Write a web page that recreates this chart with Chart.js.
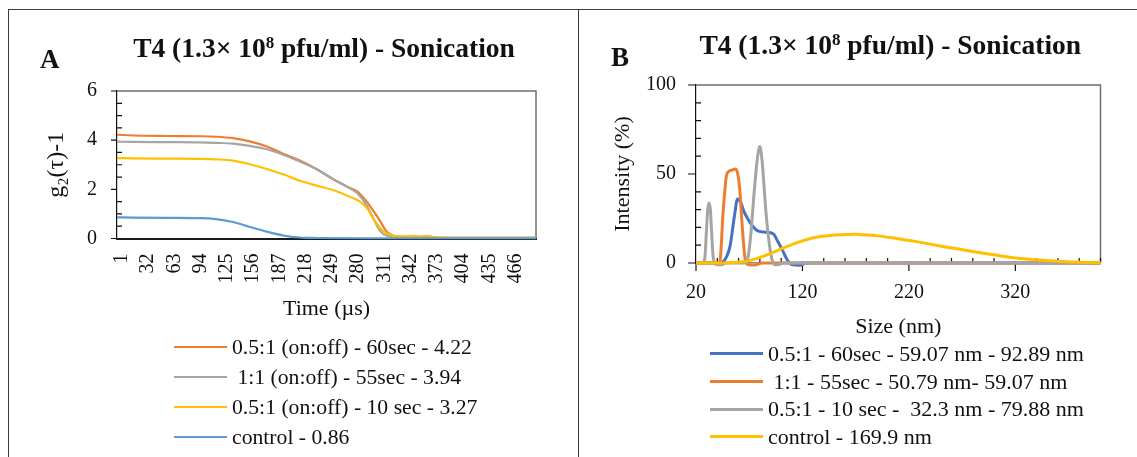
<!DOCTYPE html>
<html>
<head>
<meta charset="utf-8">
<script src="https://cdn.jsdelivr.net/npm/chart.js@4.4.1/dist/chart.umd.min.js"></script>
<style>
  html, body { margin: 0; padding: 0; background: #fff; }
  body { width: 1137px; height: 457px; position: relative; overflow: hidden; font-family: 'Liberation Serif', serif; }
  .frame { position: absolute; left: 8px; top: 9px; right: -4px; bottom: -4px; border-top: 1.5px solid #3a3a3a; border-left: 1.5px solid #3a3a3a; }
  .divider { position: absolute; left: 577.5px; top: 9px; bottom: 0; width: 0; border-left: 1.5px solid #3a3a3a; }
  .panel { position: absolute; top: 10px; height: 447px; }
  #panelA { left: 9px; width: 568px; }
  #panelB { left: 579px; width: 558px; }
  .legend { position: absolute; margin: 0; padding: 0; list-style: none; color: #111; }
  .legend li { display: flex; align-items: center; white-space: pre; }
  .legend .swatch { display: inline-block; width: 53px; height: 0; border-top-style: solid; margin-right: 5px; }
  #legendA { left: 165px; top: 322px; font-size: 21.7px; }
  #legendA li { height: 30px; }
  #legendB { left: 131px; top: 330px; font-size: 22px; }
  #legendB li { height: 27.7px; }
</style>
</head>
<body>
<div class="frame"></div>
<div class="divider"></div>
<div class="panel" id="panelA">
  <canvas id="chartA" width="568" height="447"></canvas>
  <ul class="legend" id="legendA"></ul>
</div>
<div class="panel" id="panelB">
  <canvas id="chartB" width="558" height="447"></canvas>
  <ul class="legend" id="legendB"></ul>
</div>
<script>
// ---- title text ----
const titleHead = 'T4 (1.3\u00d7 10';
const titleExp = '8';
const titleTail = ' pfu/ml) - Sonication';

// ---- A: correlation curves, g2(tau)-1 vs time ----
const timeTicks = [1, 32, 63, 94, 125, 156, 187, 218, 249, 280, 311, 342, 373, 404, 435, 466];
const timeOrange = [1, 20, 59, 99, 118, 138, 158, 178, 198, 217, 237, 257, 273, 285, 296, 304, 312, 320, 328, 344, 352, 360, 368, 376, 400, 450, 496];
const g2Orange = [4.22, 4.19, 4.17, 4.16, 4.14, 4.08, 3.95, 3.74, 3.44, 3.17, 2.82, 2.40, 2.11, 1.91, 1.50, 1.12, 0.70, 0.26, 0.11, 0.08, 0.10, 0.07, 0.10, 0.04, 0.03, 0.03, 0.03];
const timeGray = [1, 20, 59, 99, 118, 138, 158, 178, 198, 217, 237, 257, 273, 285, 296, 304, 312, 320, 336, 400, 496];
const g2Gray = [3.94, 3.93, 3.92, 3.91, 3.89, 3.86, 3.77, 3.63, 3.40, 3.13, 2.82, 2.40, 2.10, 1.84, 1.35, 0.80, 0.30, 0.11, 0.05, 0.03, 0.03];
const timeYellow = [1, 20, 59, 99, 118, 138, 158, 178, 198, 217, 237, 257, 276, 288, 296, 304, 312, 320, 328, 344, 352, 360, 368, 376, 400, 496];
const g2Yellow = [3.27, 3.26, 3.25, 3.24, 3.22, 3.17, 3.02, 2.83, 2.60, 2.35, 2.15, 1.96, 1.70, 1.50, 1.25, 0.80, 0.42, 0.20, 0.10, 0.08, 0.11, 0.08, 0.10, 0.05, 0.03, 0.03];
const timeBlue = [1, 20, 59, 99, 118, 138, 158, 178, 198, 217, 237, 300, 496];
const g2Blue = [0.86, 0.85, 0.84, 0.83, 0.79, 0.67, 0.47, 0.28, 0.12, 0.04, 0.02, 0.01, 0.01];

// ---- B: size distributions, intensity (%) vs size (nm) ----
const sizeTicks = [20, 120, 220, 320];
const size60 = [20, 42, 45, 49, 52, 56, 59.07, 62, 65, 71, 78, 85, 92.89, 96, 101, 105.5, 110, 118, 123, 400];
const int60 = [0, 0, 0.5, 3.9, 9.5, 26, 36, 34, 29, 22.5, 18, 17.3, 16.3, 13, 7.5, 2, -0.9, -1.3, 0, 0];
const size55 = [20, 40, 42.5, 45.4, 48.5, 50.79, 54, 57, 59.07, 61, 62.6, 64.5, 66, 68, 72, 76, 82, 400];
const int55 = [0, 0, 1, 28, 48.6, 51.4, 52.2, 52.8, 50.5, 42, 28, 12, 3, -0.7, -1.1, -1.1, 0, 0];
const size10 = [20, 26.5, 28.5, 29.8, 31, 32.3, 33.5, 34.6, 36, 37.5, 40, 44, 48, 66, 68, 71, 74.8, 77.5, 79.88, 82, 83.5, 85.5, 87.3, 89.5, 91.4, 94, 97, 102, 400];
const int10 = [0, 0, 4, 18, 30, 33.7, 30, 18, 4, 0, -1, -1, 0, 0, 1, 13, 41, 58, 65.4, 58, 46.7, 30, 18.8, 8, 2, -1, -1, 0, 0];
const sizeControl = [20, 40, 52, 68, 83.5, 99, 115, 130.5, 146, 158, 169.9, 182, 193, 208, 224, 240, 256, 272, 287, 303, 318, 334, 350, 365, 381, 400];
const intControl = [0, 0.05, 0.2, 1.1, 3.9, 7.6, 11.4, 14.2, 15.5, 15.9, 16.1, 15.7, 15.1, 13.8, 12.3, 10.6, 8.9, 7.3, 5.8, 4.3, 3.0, 2.1, 1.4, 0.8, 0.4, 0.2];

const zip = (xs, ys) => xs.map((x, i) => ({ x: x, y: ys[i] }));

Chart.defaults.font.family = "'Liberation Serif', serif";
Chart.defaults.color = '#111';

// draws "T4 (1.3x 10^8 pfu/ml) - Sonication" and the panel letter
const panelText = {
    id: 'panelText',
    afterDraw(chart, args, opts) {
        const ctx = chart.ctx;
        const area = chart.chartArea;
        ctx.save();
        ctx.fillStyle = '#111';
        ctx.textBaseline = 'alphabetic';
        ctx.textAlign = 'left';

        ctx.font = 'bold 27px "Liberation Serif"';
        ctx.fillText(opts.letter, opts.letterX, opts.letterY);

        const big = 'bold 27.5px "Liberation Serif"';
        const small = 'bold 17px "Liberation Serif"';
        ctx.font = big;
        const w1 = ctx.measureText(titleHead).width;
        const w3 = ctx.measureText(titleTail).width;
        ctx.font = small;
        const w2 = ctx.measureText(titleExp).width;
        let x = (area.left + area.right) / 2 + opts.titleShift - (w1 + w2 + w3) / 2;
        const y = area.top - opts.titleGap;
        ctx.font = big;
        ctx.fillText(titleHead, x, y);
        x += w1;
        ctx.font = small;
        ctx.fillText(titleExp, x, y - 9);
        x += w2;
        ctx.font = big;
        ctx.fillText(titleTail, x, y);
        ctx.restore();
    }
};

// plot frame plus major (outside) and minor (inside) tick marks
const axisMarks = {
    id: 'axisMarks',
    beforeDatasetsDraw(chart, args, opts) {
        const ctx = chart.ctx;
        const a = chart.chartArea;
        const xs = chart.scales.x, ys = chart.scales.y;
        ctx.save();
        ctx.strokeStyle = '#6e6e6e';
        ctx.lineWidth = 1.5;
        ctx.beginPath();
        ctx.moveTo(a.left, a.top);
        ctx.lineTo(a.right, a.top);
        ctx.lineTo(a.right, a.bottom);
        ctx.stroke();

        ctx.strokeStyle = '#111';
        ctx.lineWidth = 1.2;
        ctx.beginPath();
        for (let v = ys.min; v <= ys.max + 1e-9; v += opts.yMinor) {
            const py = ys.getPixelForValue(v);
            const major = Math.abs(v / opts.yMajor - Math.round(v / opts.yMajor)) < 1e-6;
            if (major) {
                ctx.moveTo(a.left - opts.majorLen, py);
                ctx.lineTo(a.left, py);
            } else {
                ctx.moveTo(a.left, py);
                ctx.lineTo(a.left + opts.minorLen, py);
            }
        }
        if (opts.xMinor) {
            for (let v = xs.min; v <= xs.max + 1e-9; v += opts.xMinor) {
                const px = xs.getPixelForValue(v);
                const major = Math.abs((v - xs.min) / opts.xMajor - Math.round((v - xs.min) / opts.xMajor)) < 1e-6;
                if (major) {
                    ctx.moveTo(px, a.bottom - 2);
                    ctx.lineTo(px, a.bottom + opts.majorLen);
                } else {
                    ctx.moveTo(px, a.bottom);
                    ctx.lineTo(px, a.bottom - opts.minorLen);
                }
            }
        }
        ctx.stroke();
        ctx.restore();
    }
};

// one legend row per dataset, in dataset order
const htmlLegend = {
    id: 'htmlLegend',
    afterUpdate(chart, args, opts) {
        const list = document.getElementById(opts.containerID);
        list.innerHTML = '';
        const items = chart.options.plugins.legend.labels.generateLabels(chart);
        items.sort((p, q) => p.datasetIndex - q.datasetIndex);
        items.forEach((item) => {
            const li = document.createElement('li');
            const swatch = document.createElement('span');
            swatch.className = 'swatch';
            swatch.style.borderTopColor = item.strokeStyle;
            swatch.style.borderTopWidth = opts.swatchWidth + 'px';
            const text = document.createElement('span');
            text.textContent = item.text;
            li.appendChild(swatch);
            li.appendChild(text);
            list.appendChild(li);
        });
    }
};

function series(label, points, color, width, index, count) {
    return {
        label: label,
        data: points,
        borderColor: color,
        backgroundColor: color,
        borderWidth: width,
        pointRadius: 0,
        cubicInterpolationMode: 'monotone',
        clip: 8,
        order: count - 1 - index
    };
}

const tickFont = { size: 20 };
const titleFont = { size: 22 };

const dataA = [
    ['0.5:1 (on:off) - 60sec - 4.22', zip(timeOrange, g2Orange), '#ED7D31'],
    [' 1:1 (on:off) - 55sec - 3.94', zip(timeGray, g2Gray), '#A5A5A5'],
    ['0.5:1 (on:off) - 10 sec - 3.27', zip(timeYellow, g2Yellow), '#FFC000'],
    ['control - 0.86', zip(timeBlue, g2Blue), '#5B9BD5']
];

new Chart(document.getElementById('chartA'), {
    type: 'line',
    data: {
        datasets: dataA.map((d, i) => series(d[0], d[1], d[2], 2.2, i, dataA.length))
    },
    options: {
        responsive: false,
        animation: false,
        layout: { padding: { left: 33, right: 41, top: 81, bottom: 131.5 } },
        plugins: {
            legend: { display: false },
            tooltip: { enabled: false },
            htmlLegend: { containerID: 'legendA', swatchWidth: 2.5 },
            panelText: { letter: 'A', letterX: 31, letterY: 58, titleShift: -2.5, titleGap: 34 },
            axisMarks: { yMajor: 2, yMinor: 0.5, majorLen: 6, minorLen: 5 }
        },
        scales: {
            x: {
                type: 'linear',
                min: 1,
                max: 496,
                afterBuildTicks: (scale) => { scale.ticks = timeTicks.map((v) => ({ value: v })); },
                afterFit: (scale) => { scale.height = 87; },
                grid: { display: false, drawTicks: false },
                border: { color: '#1a1a1a', width: 2 },
                ticks: { font: tickFont, padding: 15, labelOffset: 5, minRotation: 90, maxRotation: 90, autoSkip: false, callback: (v) => String(v) },
                title: { display: true, text: 'Time (\u00b5s)', font: titleFont, padding: { top: 0, bottom: 3 } }
            },
            y: {
                min: 0,
                max: 6,
                afterFit: (scale) => { scale.width = 75; },
                grid: { display: false, drawTicks: false },
                border: { color: '#111', width: 1.2 },
                ticks: { font: tickFont, padding: 20, stepSize: 2 },
                title: { display: true, text: 'g\u2082(\u03c4)-1', font: { size: 24 }, padding: { top: 0, bottom: 0 } }
            }
        }
    },
    plugins: [panelText, axisMarks, htmlLegend]
});

const dataB = [
    ['0.5:1 - 60sec - 59.07 nm - 92.89 nm', zip(size60, int60), '#4472C4'],
    [' 1:1 - 55sec - 50.79 nm- 59.07 nm', zip(size55, int55), '#ED7D31'],
    ['0.5:1 - 10 sec -  32.3 nm - 79.88 nm', zip(size10, int10), '#A5A5A5'],
    ['control - 169.9 nm', zip(sizeControl, intControl), '#FFC000']
];

new Chart(document.getElementById('chartB'), {
    type: 'line',
    data: {
        datasets: dataB.map((d, i) => series(d[0], d[1], d[2], 3, i, dataB.length))
    },
    options: {
        responsive: false,
        animation: false,
        layout: { padding: { left: 27, right: 36.5, top: 75, bottom: 114 } },
        plugins: {
            legend: { display: false },
            tooltip: { enabled: false },
            htmlLegend: { containerID: 'legendB', swatchWidth: 3 },
            panelText: { letter: 'B', letterX: 32, letterY: 56, titleShift: -8, titleGap: 31 },
            axisMarks: { yMajor: 50, yMinor: 10, xMajor: 100, xMinor: 20, majorLen: 8, minorLen: 5 }
        },
        scales: {
            x: {
                type: 'linear',
                min: 20,
                max: 400,
                afterBuildTicks: (scale) => { scale.ticks = sizeTicks.map((v) => ({ value: v })); },
                afterFit: (scale) => { scale.height = 80; },
                grid: { display: false, drawTicks: false },
                border: { color: '#888', width: 1.5 },
                ticks: { font: tickFont, padding: 18, maxRotation: 0, autoSkip: false, callback: (v) => String(v) },
                title: { display: true, text: 'Size (nm)', font: titleFont, padding: { top: 0, bottom: 3 } }
            },
            y: {
                min: 0,
                max: 100,
                afterFit: (scale) => { scale.width = 90; },
                grid: { display: false, drawTicks: false },
                border: { color: '#111', width: 1.2 },
                ticks: { font: tickFont, padding: 20, stepSize: 50 },
                title: { display: true, text: 'Intensity (%)', font: titleFont, padding: { top: 4, bottom: 0 } }
            }
        }
    },
    plugins: [panelText, axisMarks, htmlLegend]
});
</script>
</body>
</html>
